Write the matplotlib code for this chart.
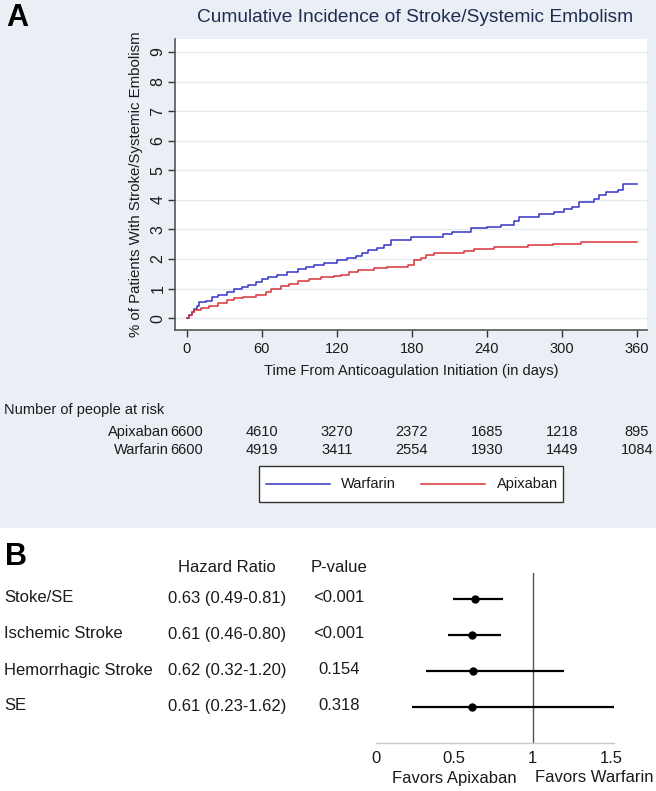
import matplotlib
matplotlib.use("Agg")
import matplotlib.pyplot as plt
from matplotlib.patches import Rectangle
from matplotlib.lines import Line2D

plt.rcParams['font.family'] = ['Liberation Sans', 'DejaVu Sans']

# ---------------- data ----------------
warf_days = [0, 2, 4, 6, 8, 10, 15, 20, 25, 32, 38, 44, 49, 55, 60, 65, 72, 80, 89, 95,
             102, 110, 120, 128, 135, 140, 145, 152, 158, 163, 179, 205, 212, 227, 240,
             251, 262, 266, 282, 294, 302, 308, 314, 326, 330, 335, 345, 349, 360]
warf_vals = [0, 0.1, 0.2, 0.3, 0.4, 0.53, 0.58, 0.7, 0.8, 0.9, 1.0, 1.07, 1.13, 1.22, 1.32,
             1.4, 1.47, 1.56, 1.66, 1.73, 1.80, 1.88, 1.97, 2.03, 2.1, 2.2, 2.29, 2.36, 2.48,
             2.65, 2.74, 2.86, 2.93, 3.04, 3.08, 3.15, 3.27, 3.41, 3.52, 3.58, 3.70, 3.75,
             3.92, 4.02, 4.15, 4.28, 4.33, 4.54, 4.54]
apix_days = [0, 2, 4, 6, 11, 18, 25, 32, 38, 45, 55, 60, 63, 67, 75, 82, 89, 98, 107, 118,
             123, 130, 137, 150, 160, 177, 182, 187, 191, 198, 222, 230, 246, 273, 293, 315, 360]
apix_vals = [0, 0.12, 0.2, 0.28, 0.34, 0.42, 0.51, 0.6, 0.68, 0.73, 0.77, 0.79, 0.88, 1.0,
             1.08, 1.15, 1.24, 1.31, 1.38, 1.43, 1.46, 1.55, 1.63, 1.68, 1.74, 1.80, 1.97,
             2.05, 2.13, 2.22, 2.28, 2.33, 2.39, 2.46, 2.51, 2.59, 2.59]

risk_times = [0, 60, 120, 180, 240, 300, 360]
risk_apixaban = [6600, 4610, 3270, 2372, 1685, 1218, 895]
risk_warfarin = [6600, 4919, 3411, 2554, 1930, 1449, 1084]

outcomes = ["Stoke/SE", "Ischemic Stroke", "Hemorrhagic Stroke", "SE"]
hr = [0.63, 0.61, 0.62, 0.61]
ci_low = [0.49, 0.46, 0.32, 0.23]
ci_high = [0.81, 0.80, 1.20, 1.62]
p_values = ["<0.001", "<0.001", "0.154", "0.318"]

# ---------------- figure ----------------
W, H = 656, 791
fig = plt.figure(figsize=(W / 100, H / 100), dpi=100)
fig.patch.set_facecolor('white')

def fx(x):
    return x / W

def fy(y):
    return 1 - y / H

def ax_rect(x0, y0, x1, y1):
    return [fx(x0), fy(y1), (x1 - x0) / W, (y1 - y0) / H]

BG = '#eaeff6'
fig.patches.append(Rectangle((0, fy(528)), 1, 528 / H, transform=fig.transFigure,
                             facecolor=BG, edgecolor='none', zorder=-10))

BLUE = '#3434c8'
RED = '#d8343a'
DARK = '#1a1a1a'
FS_A = 10.5
FS_B = 12

# ---------------- panel A ----------------
ax = fig.add_axes(ax_rect(175, 39, 647, 330))
ax.set_facecolor('white')
ax.step(warf_days, warf_vals, where='post', color=BLUE, lw=1.1, zorder=3)
ax.step(apix_days, apix_vals, where='post', color=RED, lw=1.1, zorder=3)
ax.set_xlim(-9.4, 368.2)
ax.set_ylim(-0.4, 9.44)
ax.set_yticks(range(0, 10))
ax.set_xticks(risk_times)
ax.grid(axis='y', color='#e6ebf2', lw=1)
ax.set_axisbelow(True)
for s in ['top', 'right']:
    ax.spines[s].set_visible(False)
for s in ['left', 'bottom']:
    ax.spines[s].set_color('#555555')
    ax.spines[s].set_linewidth(1.2)
ax.tick_params(axis='both', colors='#333333', labelcolor=DARK, labelsize=FS_A,
               length=5, width=1)
ax.tick_params(axis='y', labelrotation=90, pad=2, labelsize=11.5)
for lab in ax.get_yticklabels():
    lab.set_va('center')
ax.set_xlabel("Time From Anticoagulation Initiation (in days)", fontsize=FS_A,
              color=DARK, labelpad=6)
ax.set_ylabel("% of Patients With Stroke/Systemic Embolism", fontsize=10.8,
              color=DARK, labelpad=5)

fig.text(fx(415), fy(17), "Cumulative Incidence of Stroke/Systemic Embolism",
         ha='center', va='center', fontsize=13.8, color='#1e2d50')
fig.text(fx(6), fy(18), "A", ha='left', va='center', fontsize=22, fontweight='bold')

# risk table
fig.text(fx(4), fy(410), "Number of people at risk", ha='left', va='center',
         fontsize=FS_A, color=DARK)
for row_y, name, vals in [(432, "Apixaban", risk_apixaban), (450, "Warfarin", risk_warfarin)]:
    fig.text(fx(169), fy(row_y), name, ha='right', va='center', fontsize=FS_A, color=DARK)
    for t, v in zip(risk_times, vals):
        xpix = 186.7 + t * 1.25
        fig.text(fx(xpix), fy(row_y), str(v), ha='center', va='center',
                 fontsize=FS_A, color=DARK)

# legend box
fig.patches.append(Rectangle((fx(259), fy(502)), (563 - 259) / W, (502 - 466) / H,
                             transform=fig.transFigure, facecolor='white',
                             edgecolor='#333333', lw=1, zorder=2))
fig.lines.append(Line2D([fx(266), fx(330)], [fy(484), fy(484)], transform=fig.transFigure,
                        color=BLUE, lw=1.1, zorder=3))
fig.text(fx(341), fy(484), "Warfarin", ha='left', va='center', fontsize=FS_A,
         color=DARK, zorder=3)
fig.lines.append(Line2D([fx(421), fx(485)], [fy(484), fy(484)], transform=fig.transFigure,
                        color=RED, lw=1.1, zorder=3))
fig.text(fx(497), fy(484), "Apixaban", ha='left', va='center', fontsize=FS_A,
         color=DARK, zorder=3)

# ---------------- panel B ----------------
fig.text(fx(5), fy(557), "B", ha='left', va='center', fontsize=22, fontweight='bold')
fig.text(fx(227), fy(567), "Hazard Ratio", ha='center', va='center', fontsize=FS_B,
         color=DARK)
fig.text(fx(339), fy(567), "P-value", ha='center', va='center', fontsize=FS_B, color=DARK)

text_rows = [598, 634, 670, 706]
for i, (name, h, lo, hi, p) in enumerate(zip(outcomes, hr, ci_low, ci_high, p_values)):
    yy = text_rows[i]
    fig.text(fx(4), fy(yy), name, ha='left', va='center', fontsize=FS_B, color=DARK)
    fig.text(fx(227), fy(yy), f"{h:.2f} ({lo:.2f}-{hi:.2f})", ha='center', va='center',
             fontsize=FS_B, color=DARK)
    fig.text(fx(339), fy(yy), p, ha='center', va='center', fontsize=FS_B, color=DARK)

axf = fig.add_axes(ax_rect(376, 573, 613.5, 742.7))
axf.set_xlim(0, 1.517)
axf.set_ylim(3.98, -0.73)
ys = list(range(len(outcomes)))
axf.hlines(ys, ci_low, ci_high, color='black', lw=1.6, zorder=3)
axf.plot(hr, ys, 'o', color='black', ms=5, zorder=4)
axf.axvline(1, color='#555555', lw=1)
for s in ['top', 'right', 'left']:
    axf.spines[s].set_visible(False)
axf.spines['bottom'].set_color('#c8c8c8')
axf.spines['bottom'].set_linewidth(1)
axf.set_yticks([])
axf.set_xticks([0, 0.5, 1, 1.5])
axf.set_xticklabels(["0", "0.5", "1", "1.5"])
axf.tick_params(axis='x', length=0, labelsize=FS_B, labelcolor=DARK, pad=6)
axf.patch.set_alpha(0)

fig.text(fx(454), fy(778), "Favors Apixaban", ha='center', va='center', fontsize=FS_B,
         color=DARK)
fig.text(fx(594), fy(778), "Favors Warfarin", ha='center', va='center', fontsize=FS_B,
         color=DARK)

fig.savefig("out.png", dpi=100, facecolor=fig.get_facecolor())
